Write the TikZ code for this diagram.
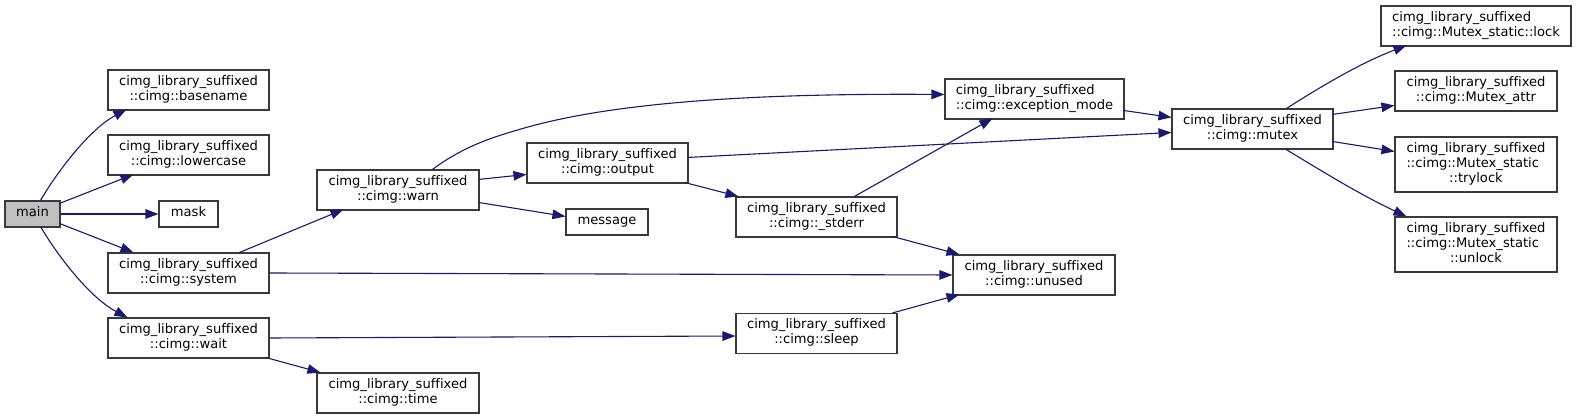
\documentclass[tikz,border=0pt]{standalone}
\usepackage{fontspec}
\setmainfont{DejaVu Sans}[Ligatures=NoCommon]
\usetikzlibrary{arrows.meta,calc}
\definecolor{edgec}{HTML}{191970}
\definecolor{boxc}{HTML}{3A3A3A}
\definecolor{mainfill}{HTML}{BFBFBF}
\newcommand\Ll[1]{\multicolumn{1}{@{}l@{}}{#1}}
\newcommand\tb[1]{{\renewcommand\arraystretch{1}\begin{tabular}{@{}c@{}}#1\end{tabular}}}
\begin{document}
\begin{tikzpicture}[x=1pt,y=-1pt,
  fn/.style={draw=boxc, line width=1.1pt, fill=white, inner sep=0pt,
    minimum width=161pt, minimum height=40pt, font=\fontsize{13.1}{15}\selectfont},
  ed/.style={draw=edgec, line width=1.1pt, -{Triangle[length=13pt,width=9.5pt]}}]
\useasboundingbox (0,0) rectangle (1576,419);
% nodes
\node[fn, fill=mainfill, minimum width=55pt, minimum height=26pt] (main) at (32.5,214) {\tb{main}};
\node[fn] (basename) at (188.5,90) {\tb{cimg\_library\_suffixed\\::cimg::basename}};
\node[fn] (lowercase) at (188.5,155) {\tb{cimg\_library\_suffixed\\::cimg::lowercase}};
\node[fn, minimum width=59pt, minimum height=26pt] (mask) at (188.5,214) {\tb{mask}};
\node[fn] (system) at (188.5,273) {\tb{cimg\_library\_suffixed\\::cimg::system}};
\node[fn] (wait) at (188.5,338) {\tb{cimg\_library\_suffixed\\::cimg::wait}};
\node[fn, minimum width=162pt] (warn) at (398,190) {\tb{cimg\_library\_suffixed\\::cimg::warn}};
\node[fn, minimum width=162pt] (time) at (398,393) {\tb{cimg\_library\_suffixed\\::cimg::time}};
\node[fn] (output) at (607.5,163) {\tb{cimg\_library\_suffixed\\::cimg::output}};
\node[fn, minimum width=82pt, minimum height=26pt] (message) at (607,222) {\tb{message}};
\node[fn] (stderr) at (816.5,217) {\tb{cimg\_library\_suffixed\\::cimg::\_stderr}};
\node[fn] (sleep) at (816.5,333.5) {\tb{cimg\_library\_suffixed\\::cimg::sleep}};
\node[fn, minimum width=179pt] (exmode) at (1034.5,99) {\tb{\Ll{cimg\_library\_suffixed}\\::cimg::exception\_mode}};
\node[fn, minimum width=162pt] (unused) at (1034,275) {\tb{cimg\_library\_suffixed\\::cimg::unused}};
\node[fn] (mutex) at (1252.5,129) {\tb{cimg\_library\_suffixed\\::cimg::mutex}};
\node[fn, minimum width=190pt] (lock) at (1476,26) {\tb{\Ll{cimg\_library\_suffixed}\\::cimg::Mutex\_static::lock}};
\node[fn, minimum width=162pt] (attr) at (1476,91) {\tb{cimg\_library\_suffixed\\::cimg::Mutex\_attr}};
\node[fn, minimum width=162pt, minimum height=55pt] (trylock) at (1476,164.5) {\tb{\Ll{cimg\_library\_suffixed}\\\Ll{::cimg::Mutex\_static}\\::trylock}};
\node[fn, minimum width=162pt, minimum height=55pt] (unlock) at (1476,244.5) {\tb{\Ll{cimg\_library\_suffixed}\\\Ll{::cimg::Mutex\_static}\\::unlock}};
% edges
\draw[ed] ($(main.north west)+(36,0)$) .. controls ($(main.north west)+(53,-29)$) and ($(basename.north west)+(-18,60)$) .. ($(basename.north west)+(19,40)$);
\draw[ed] ($(main.north west)+(55,3)$) -- ($(lowercase.north west)+(26,40)$);
\draw[ed] (main.east) -- (mask.west);
\draw[ed] ($(main.north west)+(55,23)$) -- ($(system.north west)+(26,0)$);
\draw[ed] ($(main.north west)+(36,26)$) .. controls ($(main.north west)+(53,55)$) and ($(wait.north west)+(-18,-20)$) .. ($(wait.north west)+(20,0)$);
\draw[ed] ($(system.north west)+(132,0)$) -- ($(warn.north west)+(27,40)$);
\draw[ed] (system.east) -- (unused.west);
\draw[ed] (wait.east) -- ($(sleep.west)+(0,2.5)$);
\draw[ed] ($(wait.north west)+(158,40)$) -- ($(time.north west)+(4,0)$);
\draw[ed] ($(warn.north west)+(116,0)$) .. controls ($(warn.north west)+(143,-20)$) and ($(warn.north west)+(168,-30)$) .. ($(warn.north west)+(203,-40)$)
  .. controls ($(warn.north west)+(303,-70)$) and ($(exmode.north west)+(-165,15)$) .. ($(exmode.north west)+(0,16)$);
\draw[ed] ($(warn.north west)+(162,10)$) -- ($(output.north west)+(0,32)$);
\draw[ed] ($(warn.north west)+(162,33)$) -- ($(message.north west)+(0,8)$);
\draw[ed] ($(output.north west)+(161,15)$) -- ($(mutex.north west)+(0,24)$);
\draw[ed] ($(output.north west)+(158,40)$) -- ($(stderr.north west)+(3,0)$);
\draw[ed] ($(stderr.north west)+(119,0)$) -- ($(exmode.north west)+(48,40)$);
\draw[ed] ($(stderr.north west)+(157,40)$) -- ($(unused.north west)+(7,0)$);
\draw[ed] ($(sleep.north west)+(157,0)$) -- ($(unused.north west)+(7,40)$);
\draw[ed] ($(exmode.north west)+(179,32)$) -- ($(mutex.north west)+(0,9)$);
\draw[ed] ($(mutex.north west)+(115,0)$) .. controls ($(mutex.north west)+(148,-21)$) and ($(lock.north west)+(-21,58)$) .. ($(lock.north west)+(26,40)$);
\draw[ed] ($(mutex.north west)+(161,6)$) -- ($(attr.north west)+(0,35)$);
\draw[ed] ($(mutex.north west)+(161,33)$) -- ($(trylock.north west)+(0,15)$);
\draw[ed] ($(mutex.north west)+(113,40)$) .. controls ($(mutex.north west)+(146,60)$) and ($(unlock.north west)+(-35,-22)$) .. ($(unlock.north west)+(12,0)$);
\end{tikzpicture}
\end{document}
